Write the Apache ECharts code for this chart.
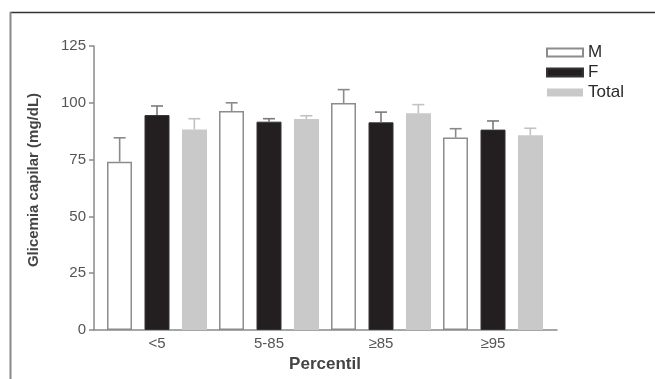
<!DOCTYPE html>
<html>
<head>
<meta charset="utf-8">
<script src="https://cdn.jsdelivr.net/npm/echarts@6/dist/echarts.min.js"></script>
<style>html,body{margin:0;padding:0;background:#fff}#c{width:655px;height:379px}</style>
</head>
<body>
<div id="c"></div>
<script>
const categories = ['<5', '5-85', '≥85', '≥95'];
const mValues = [74.1, 96.4, 99.9, 84.7];
const mErrors = [10.5, 3.6, 5.9, 3.9];
const fValues = [94.6, 91.7, 91.4, 88.2];
const fErrors = [4.0, 1.3, 4.5, 3.8];
const tValues = [88.3, 92.9, 95.4, 85.7];
const tErrors = [4.7, 1.4, 3.8, 3.1];
const yTicks = { min: 0, max: 125, interval: 25 };

const FONT = 'Liberation Sans, Arial, Helvetica, sans-serif';

function errSeries(values, errs, slot, color) {
  return {
    type: 'custom',
    xAxisIndex: 0, yAxisIndex: 0,
    z: 5,
    silent: true,
    encode: { x: 0, y: 1 },
    data: categories.map((c, i) => [i, values[i], errs[i]]),
    renderItem: function (params, api) {
      const i = api.value(0);
      const v = api.value(1);
      const e = api.value(2);
      const base = api.coord([i, v]);
      const top = api.coord([i, v + e]);
      const band = api.size([1, 0])[0];
      const x = base[0] + slot * band / 3;
      const half = 6;
      const st = { stroke: color, lineWidth: 1.6 };
      return {
        type: 'group',
        children: [
          { type: 'line', shape: { x1: x, y1: base[1], x2: x, y2: top[1] }, style: st },
          { type: 'line', shape: { x1: x - half, y1: top[1], x2: x + half, y2: top[1] }, style: st }
        ]
      };
    }
  };
}

const chart = echarts.init(document.getElementById('c'), null, { renderer: 'canvas' });
chart.setOption({
  animation: false,
  backgroundColor: '#fff',
  textStyle: { fontFamily: FONT },
  grid: [
    { left: 101, width: 448, top: 46, bottom: 49, outerBoundsMode: 'none', containLabel: false },
    { left: 94, width: 463, top: 46, bottom: 49, outerBoundsMode: 'none', containLabel: false }
  ],
  legend: {
    data: ['M', 'F', 'Total'],
    orient: 'vertical',
    left: 541, top: 39,
    itemWidth: 36, itemHeight: 8, itemGap: 3,
    icon: 'rect',
    textStyle: { fontSize: 17, color: '#2a2a2a', fontFamily: FONT, lineHeight: 15 }
  },
  xAxis: [
    {
      type: 'category', gridIndex: 0, data: categories,
      axisLine: { show: false }, axisTick: { show: false },
      axisLabel: { fontSize: 15, color: '#555', margin: 6, fontFamily: FONT },
      name: 'Percentil', nameLocation: 'middle', nameGap: 22,
      nameTextStyle: { fontSize: 17, fontWeight: 'bold', color: '#444', fontFamily: FONT }
    },
    {
      type: 'value', gridIndex: 1, min: 0, max: 1,
      axisLine: { show: true, lineStyle: { color: '#8a8a8a', width: 1.5 } },
      axisTick: { show: false }, axisLabel: { show: false }, splitLine: { show: false }
    }
  ],
  yAxis: [
    {
      type: 'value', gridIndex: 0, min: yTicks.min, max: yTicks.max, interval: yTicks.interval,
      show: false, splitLine: { show: false }
    },
    {
      type: 'value', gridIndex: 1, min: yTicks.min, max: yTicks.max, interval: yTicks.interval,
      axisLine: { show: true, lineStyle: { color: '#8a8a8a', width: 1.5 } },
      axisTick: { show: true, length: 5, lineStyle: { color: '#8a8a8a', width: 1.5 } },
      axisLabel: { fontSize: 15, color: '#555', margin: 8, fontFamily: FONT },
      splitLine: { show: false },
      name: 'Glicemia capilar (mg/dL)', nameLocation: 'middle', nameGap: 53,
      nameTextStyle: { fontSize: 15, fontWeight: 'bold', color: '#444', fontFamily: FONT, padding: [0, 0, 0, 16] }
    }
  ],
  series: [
    {
      name: 'M', type: 'bar', xAxisIndex: 0, yAxisIndex: 0, data: mValues,
      barWidth: 25, barGap: '50%',
      itemStyle: { color: '#ffffff', borderColor: '#8c8c8c', borderWidth: 1.5 }
    },
    {
      name: 'F', type: 'bar', xAxisIndex: 0, yAxisIndex: 0, data: fValues,
      barWidth: 25, barGap: '50%',
      itemStyle: { color: '#231f20', borderColor: '#333', borderWidth: 1 }
    },
    {
      name: 'Total', type: 'bar', xAxisIndex: 0, yAxisIndex: 0, data: tValues,
      barWidth: 25, barGap: '50%',
      itemStyle: { color: '#c9c9c9' }
    },
    errSeries(mValues, mErrors, -1, '#8a8a8a'),
    errSeries(fValues, fErrors, 0, '#7a7a7a'),
    errSeries(tValues, tErrors, 1, '#c2c2c2')
  ],
  graphic: [
    { type: 'line', shape: { x1: 10, y1: 12.5, x2: 655, y2: 12.5 }, style: { stroke: '#333', lineWidth: 1.5 } },
    { type: 'line', shape: { x1: 10.5, y1: 12, x2: 10.5, y2: 379 }, style: { stroke: '#888', lineWidth: 2 } }
  ]
});
</script>
</body>
</html>
